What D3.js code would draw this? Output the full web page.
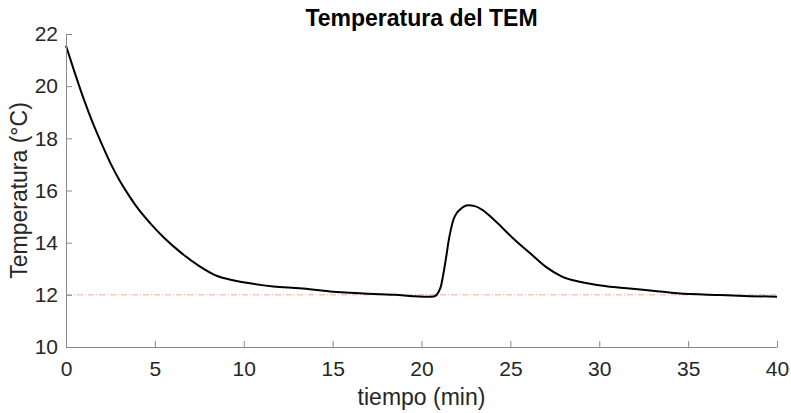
<!DOCTYPE html>
<html>
<head>
<meta charset="utf-8">
<script src="https://cdn.jsdelivr.net/npm/d3@7"></script>
<style>
  body { margin: 0; background: #fff; }
  text { font-family: "Liberation Sans", Arial, sans-serif; }
</style>
</head>
<body>
<div id="chart"></div>
<script>
var width = 791,
    height = 413;

var margin = { top: 34, right: 14, bottom: 66, left: 66 },
    plotWidth = width - margin.left - margin.right,
    plotHeight = height - margin.top - margin.bottom;

// data
var tiempo = [0, 0.5, 1.0, 1.5, 2.0, 2.5, 3.0, 3.5, 4.0, 4.73, 5.5, 6.5, 7.5, 8.5, 9.4,
  10.35, 11.66, 13.16, 14.85, 16, 17.66, 18.5, 19.54, 20.3, 20.7, 20.95, 21.1, 21.23, 21.4,
  21.51, 21.65, 21.79, 22.0, 22.17, 22.63, 23.0, 23.4, 24.2, 25.1, 26.1, 27.0, 27.9,
  28.9, 30.4, 31.7, 33.0, 34.4, 36.8, 38.5, 40];
var temperatura = [21.55, 20.5, 19.5, 18.6, 17.8, 17.05, 16.4, 15.85, 15.35, 14.75, 14.2, 13.6,
  13.1, 12.72, 12.56, 12.44, 12.32, 12.25, 12.13, 12.08, 12.02, 12.0, 11.95, 11.93, 11.94,
  12.1, 12.35, 12.8, 13.5, 14.0, 14.5, 14.87, 15.15, 15.27, 15.43, 15.4, 15.27, 14.8, 14.2,
  13.6, 13.07, 12.7, 12.5, 12.33, 12.24, 12.16, 12.06, 11.99, 11.95, 11.93];
var referencia = 12;
var xTicks = [0, 5, 10, 15, 20, 25, 30, 35, 40];
var yTicks = [10, 12, 14, 16, 18, 20, 22];

var data = tiempo.map(function(t, i) { return { t: t, T: temperatura[i] }; });

var x = d3.scaleLinear().domain([0, 40]).range([0, plotWidth]);
var y = d3.scaleLinear().domain([10, 22]).range([plotHeight, 0]);

var svg = d3.select("#chart").append("svg")
    .attr("width", width)
    .attr("height", height);

var g = svg.append("g").attr("transform", "translate(" + margin.left + "," + margin.top + ")");

// reference line
g.append("line")
    .attr("x1", x(0)).attr("x2", x(40))
    .attr("y1", y(referencia)).attr("y2", y(referencia))
    .attr("stroke", "#eeae90")
    .attr("stroke-width", 1)
    .attr("stroke-dasharray", "6,2,1,2");

var line = d3.line()
    .curve(d3.curveMonotoneX)
    .x(function(d) { return x(d.t); })
    .y(function(d) { return y(d.T); });

g.append("path")
    .datum(data)
    .attr("fill", "none")
    .attr("stroke", "#000")
    .attr("stroke-width", 2)
    .attr("stroke-linejoin", "round")
    .attr("d", line);

// axes
var xAxis = g.append("g")
    .attr("transform", "translate(0," + plotHeight + ")")
    .call(d3.axisBottom(x).tickValues(xTicks).tickSizeInner(-6).tickSizeOuter(0).tickPadding(14));

var yAxis = g.append("g")
    .call(d3.axisLeft(y).tickValues(yTicks).tickSizeInner(-6).tickSizeOuter(0).tickPadding(8));

[xAxis, yAxis].forEach(function(ax) {
  ax.select(".domain").attr("stroke", "#8a8a8a");
  ax.selectAll(".tick line").attr("stroke", "#8a8a8a");
  ax.selectAll(".tick text")
    .attr("fill", "#262626")
    .style("font-size", "21px")
    .style("font-family", "'Liberation Sans', Arial, sans-serif");
});
xAxis.selectAll(".tick text").attr("dy", "0.71em");

svg.append("text")
    .attr("x", margin.left + plotWidth / 2)
    .attr("y", 405)
    .attr("text-anchor", "middle")
    .attr("fill", "#262626")
    .style("font-size", "23px")
    .text("tiempo (min)");

svg.append("text")
    .attr("transform", "translate(27," + (margin.top + plotHeight / 2) + ") rotate(-90)")
    .attr("text-anchor", "middle")
    .attr("fill", "#262626")
    .style("font-size", "23px")
    .text("Temperatura (°C)");

svg.append("text")
    .attr("x", margin.left + plotWidth / 2)
    .attr("y", 26)
    .attr("text-anchor", "middle")
    .attr("fill", "#000")
    .style("font-size", "23px")
    .style("font-weight", "bold")
    .text("Temperatura del TEM");
</script>
</body>
</html>
